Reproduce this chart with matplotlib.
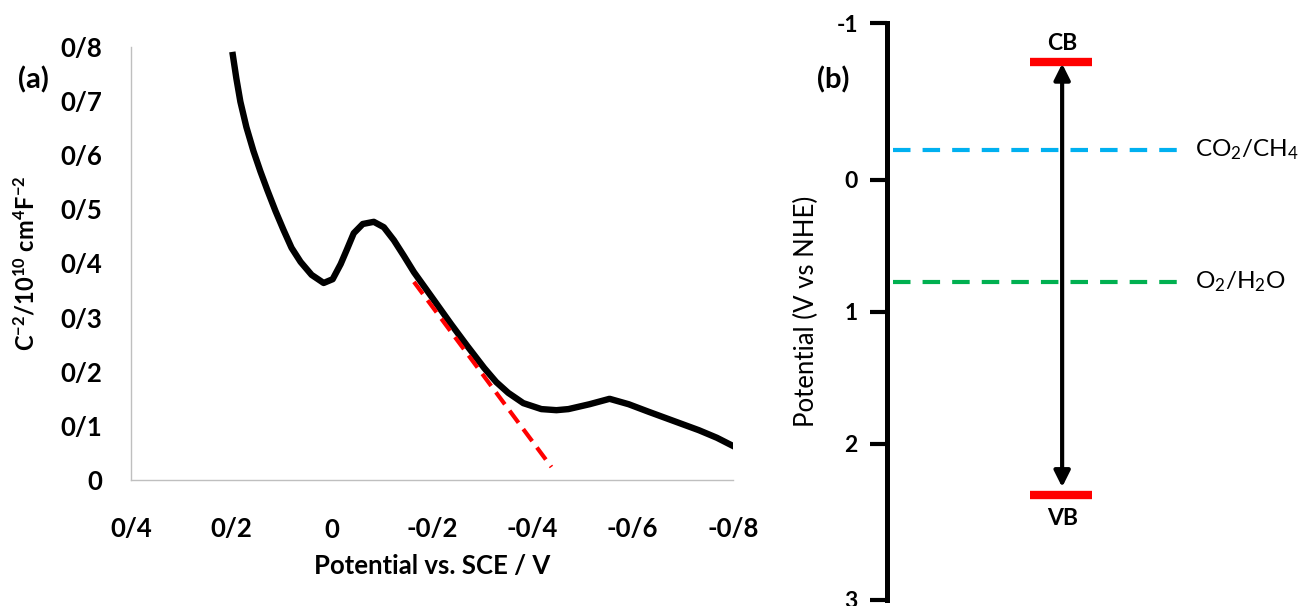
import numpy as np
import matplotlib
matplotlib.use('Agg')
import matplotlib.pyplot as plt
from matplotlib.ticker import FuncFormatter, MultipleLocator

plt.rcParams['font.family'] = ['Lato', 'DejaVu Sans']
plt.rcParams['mathtext.default'] = 'regular'
plt.rcParams['axes.unicode_minus'] = False

# (a) Mott-Schottky curve
potential_sce = [0.198, 0.190, 0.182, 0.170, 0.156, 0.142, 0.128, 0.112, 0.096, 0.080,
                 0.062, 0.040, 0.016, -0.002, -0.018, -0.030, -0.044, -0.062, -0.084, -0.104,
                 -0.124, -0.144, -0.164, -0.198, -0.238, -0.270, -0.304, -0.328, -0.352, -0.382,
                 -0.418, -0.448, -0.472, -0.514, -0.554, -0.592, -0.632, -0.682, -0.732, -0.768,
                 -0.804]
inv_c2 = [0.791, 0.742, 0.699, 0.652, 0.608, 0.570, 0.535, 0.497, 0.462, 0.429,
          0.403, 0.379, 0.364, 0.371, 0.399, 0.425, 0.456, 0.473, 0.477, 0.467,
          0.443, 0.414, 0.384, 0.340, 0.288, 0.248, 0.207, 0.181, 0.161, 0.142,
          0.131, 0.129, 0.131, 0.140, 0.150, 0.140, 0.126, 0.109, 0.092, 0.078,
          0.061]
fit_x = [-0.164, -0.438]
fit_y = [0.366, 0.024]

# (b) band positions (V vs NHE)
cb_level = -0.75
vb_level = 2.33
redox_names = ['CO$_2$/CH$_4$', 'O$_2$/H$_2$O']
redox_levels = [-0.19, 0.77]
redox_colors = ['#00b0f0', '#00b050']
nhe_ticks = [-1, 0, 1, 2, 3]
nhe_tick_px = [0, 157, 289, 421, 577]   # drawn spacing of the hand-made axis


def persian_fmt(v, p):
    v = round(v, 3)
    if v == 0:
        return '0'
    return f"{v:g}".replace('.', '/')


fig = plt.figure(figsize=(13.02, 6.06), dpi=100)

# ---------- panel (a)
ax1 = fig.add_axes([131/1302, 126/606, 602/1302, 433/606])
ax1.plot(potential_sce, inv_c2, color='black', lw=4.6,
         solid_capstyle='butt', solid_joinstyle='round')
ax1.plot(fit_x, fit_y, color='red', lw=3, dashes=(3.6, 1.9))
ax1.set_xlim(0.4, -0.8)
ax1.set_ylim(0, 0.8)
ax1.xaxis.set_major_locator(MultipleLocator(0.2))
ax1.yaxis.set_major_locator(MultipleLocator(0.1))
ax1.xaxis.set_major_formatter(FuncFormatter(persian_fmt))
ax1.yaxis.set_major_formatter(FuncFormatter(persian_fmt))
for s in ['top', 'right']:
    ax1.spines[s].set_visible(False)
for s in ['left', 'bottom']:
    ax1.spines[s].set_color('#bfbfbf')
    ax1.spines[s].set_linewidth(1)
ax1.tick_params(axis='y', length=0, pad=21, labelsize=18.5)
ax1.tick_params(axis='x', length=0, pad=27, labelsize=18.5)
for lab in ax1.get_xticklabels() + ax1.get_yticklabels():
    lab.set_fontweight('bold')
ax1.set_xlabel('Potential vs. SCE / V', fontsize=18.5, fontweight='bold')
ax1.xaxis.set_label_coords(0.5, -0.17)
ax1.set_ylabel('C$^{-2}$/10$^{10}$ cm$^{4}$F$^{-2}$', fontsize=17, fontweight='bold')
ax1.yaxis.set_label_coords(-0.153, 0.5)
fig.text(33/1302, 1 - 80/606, '(a)', fontsize=21, fontweight='bold', ha='center', va='center')

# ---------- panel (b)
ax2 = fig.add_axes([887/1302, 6/606, 415/1302, 577/606])


def fwd(y):
    return np.interp(y, nhe_ticks, nhe_tick_px)


def inv(t):
    return np.interp(t, nhe_tick_px, nhe_ticks)


ax2.set_yscale('function', functions=(fwd, inv))
ax2.set_ylim(3, -1)
ax2.set_xlim(0, 10)
ax2.set_yticks(nhe_ticks)
ax2.set_yticklabels([str(t) for t in nhe_ticks])
for s in ['top', 'right', 'bottom']:
    ax2.spines[s].set_visible(False)
ax2.spines['left'].set_linewidth(3.6)
ax2.spines['left'].set_capstyle('projecting')
ax2.set_xticks([])
ax2.tick_params(axis='y', length=12, width=3, pad=9, labelsize=16.5)
for lab in ax2.get_yticklabels():
    lab.set_fontweight('bold')
ax2.set_ylabel('Potential (V vs NHE)', fontsize=18.5)
ax2.yaxis.set_label_coords(-0.164, 0.5)

band_x0, band_x1, arrow_x = 3.45, 4.94, 4.22
for name, lvl, col in zip(redox_names, redox_levels, redox_colors):
    ax2.hlines(lvl, 0.15, 7.13, color=col, lw=3, linestyles=(0, (4.2, 2.9)))
    ax2.text(7.42, lvl, name, fontsize=17.5, ha='left', va='center')

ax2.hlines([cb_level, vb_level], band_x0, band_x1, color='#ff0000', lw=6)
ax2.annotate('', xy=(arrow_x, cb_level), xytext=(arrow_x, vb_level),
             arrowprops=dict(arrowstyle='<|-|>', color='black', lw=3,
                             mutation_scale=24, shrinkA=6, shrinkB=1))
ax2.annotate('CB', xy=(arrow_x, cb_level), xytext=(0, 6), textcoords='offset points',
             fontsize=16.5, fontweight='bold', ha='center', va='bottom')
ax2.annotate('VB', xy=(arrow_x, vb_level), xytext=(0, -9), textcoords='offset points',
             fontsize=16.5, fontweight='bold', ha='center', va='top')
fig.text(833/1302, 1 - 80/606, '(b)', fontsize=21, fontweight='bold', ha='center', va='center')

fig.savefig('out.png', dpi=100)
